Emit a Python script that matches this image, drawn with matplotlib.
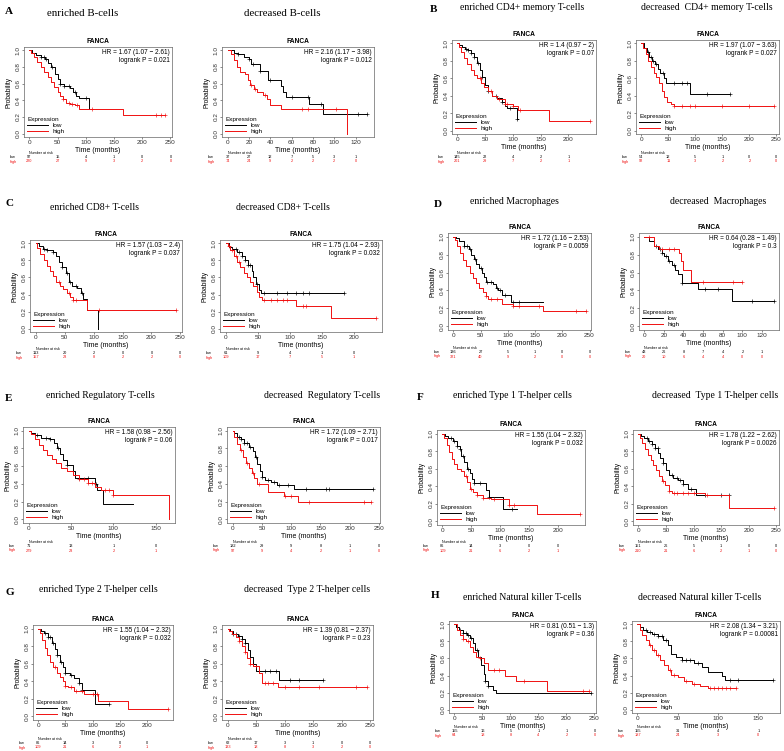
import matplotlib
matplotlib.use("Agg")
import matplotlib.pyplot as plt
import matplotlib.transforms as mtransforms
import numpy as np

# ---- survival curves: (time, survival after that time)
a1_low = [(5,0.97),(12,0.94),(20,0.92),(28,0.9),(33,0.85),(38,0.8),(45,0.72),(50,0.66),(55,0.6),(62,0.57),(72,0.55),(78,0.5),(82,0.45),(88,0.43),(105,0.29),(106,0.29)]
a1_high = [(3,0.97),(8,0.92),(14,0.86),(20,0.8),(26,0.74),(32,0.68),(38,0.62),(44,0.56),(50,0.5),(55,0.45),(60,0.41),(65,0.37),(72,0.35),(80,0.34),(88,0.3),(95,0.29),(165,0.22),(240,0.22)]
a1_low_cens = [20,25,30,40,55,62,70,80,100]
a1_high_cens = [60,70,75,85,110,225,233,240]

a2_low = [(6,0.97),(10,0.95),(15,0.92),(20,0.9),(22,0.84),(30,0.75),(38,0.64),(50,0.57),(52,0.5),(55,0.44),(76,0.36),(89,0.24),(131,0.24)]
a2_high = [(3,0.95),(6,0.88),(9,0.8),(12,0.74),(16,0.72),(19,0.64),(21,0.58),(25,0.54),(28,0.5),(33,0.46),(37,0.42),(40,0.34),(50,0.29),(112,0.0)]
a2_low_cens = [10,20,24,30,40,60,75,88,122,131]
a2_high_cens = [22,26,35,70,75,102]

b1_low = [(3,0.98),(8,0.96),(14,0.94),(20,0.92),(25,0.89),(30,0.85),(35,0.78),(40,0.7),(45,0.62),(50,0.52),(55,0.45),(62,0.4),(72,0.37),(80,0.33),(85,0.28),(90,0.26),(107,0.13),(110,0.13)]
b1_high = [(3,0.96),(7,0.9),(12,0.83),(18,0.76),(24,0.7),(30,0.64),(36,0.6),(42,0.55),(48,0.5),(55,0.45),(62,0.4),(72,0.36),(85,0.3),(100,0.28),(110,0.23),(165,0.11),(238,0.11)]
b1_low_cens = [15,20,25,30,38,45,55,70,80,95,108]
b1_high_cens = [40,60,75,85,90,100,112,238]

b2_low = [(5,0.95),(10,0.9),(15,0.85),(20,0.8),(25,0.76),(30,0.71),(35,0.66),(42,0.6),(45,0.55),(90,0.42),(165,0.42)]
b2_high = [(3,0.95),(8,0.88),(13,0.8),(18,0.73),(23,0.66),(28,0.62),(33,0.55),(38,0.45),(42,0.38),(48,0.33),(55,0.3),(60,0.28),(245,0.28)]
b2_low_cens = [12,18,22,28,40,60,75,85,122,165]
b2_high_cens = [60,75,90,100,150,200,245]

c1_low = [(5,0.97),(12,0.94),(20,0.92),(30,0.9),(35,0.85),(40,0.78),(45,0.72),(52,0.65),(58,0.55),(62,0.5),(72,0.48),(78,0.42),(82,0.35),(88,0.22),(108,0.0)]
c1_high = [(3,0.95),(8,0.88),(14,0.8),(20,0.74),(25,0.68),(30,0.62),(36,0.55),(42,0.5),(48,0.46),(55,0.42),(60,0.37),(65,0.33),(88,0.22),(242,0.22)]
c1_low_cens = [15,20,30,45,55,60,70,80]
c1_high_cens = [40,58,65,70,110,242]

c2_low = [(5,0.96),(10,0.93),(18,0.9),(25,0.85),(30,0.8),(35,0.75),(40,0.68),(43,0.6),(47,0.52),(52,0.45),(55,0.42),(185,0.42)]
c2_high = [(3,0.97),(7,0.92),(12,0.85),(17,0.78),(22,0.72),(28,0.65),(33,0.6),(38,0.55),(43,0.5),(48,0.43),(52,0.37),(56,0.33),(110,0.27),(165,0.13),(235,0.13)]
c2_low_cens = [15,20,25,30,35,38,48,60,80,95,110,120,130,185]
c2_high_cens = [5,10,15,20,60,70,80,90,95,120,125,235]

d1_low = [(5,0.98),(10,0.95),(20,0.9),(28,0.86),(33,0.8),(38,0.75),(42,0.7),(47,0.65),(52,0.6),(56,0.55),(60,0.5),(72,0.47),(78,0.43),(82,0.4),(90,0.35),(105,0.27),(165,0.27)]
d1_high = [(3,0.96),(7,0.9),(12,0.82),(18,0.74),(24,0.67),(30,0.6),(36,0.54),(42,0.48),(48,0.43),(54,0.38),(60,0.34),(64,0.31),(75,0.3),(90,0.25),(110,0.23),(165,0.17),(243,0.17)]
d1_low_cens = [20,25,30,40,50,62,70,80,85,95,110,120]
d1_high_cens = [60,70,80,110,120,158,225,243]

d2_low = [(5,0.95),(10,0.9),(14,0.86),(18,0.82),(20,0.78),(24,0.73),(28,0.68),(31,0.63),(34,0.58),(38,0.48),(55,0.42),(89,0.28),(132,0.28)]
d2_high = [(10,0.9),(15,0.86),(35,0.82),(37,0.73),(40,0.63),(48,0.5),(100,0.5)]
d2_low_cens = [12,16,18,22,25,30,38,62,75,110,132]
d2_high_cens = [5,18,25,30,60,90,100]

e1_low = [(3,0.97),(8,0.95),(15,0.92),(25,0.9),(30,0.86),(34,0.8),(37,0.74),(40,0.67),(45,0.61),(52,0.55),(55,0.47),(78,0.4),(81,0.33),(88,0.17),(123,0.17)]
e1_high = [(3,0.96),(7,0.9),(12,0.84),(17,0.78),(22,0.73),(27,0.68),(32,0.63),(38,0.58),(45,0.54),(52,0.5),(60,0.45),(70,0.41),(78,0.37),(85,0.33),(100,0.28),(165,0.0)]
e1_low_cens = [10,20,25,35,45,60,70,80]
e1_high_cens = [60,65,70,75,90,95,100]

e2_low = [(3,0.97),(8,0.93),(15,0.9),(20,0.86),(28,0.82),(34,0.77),(38,0.7),(42,0.62),(46,0.55),(50,0.48),(55,0.44),(65,0.42),(75,0.39),(105,0.34),(240,0.34)]
e2_high = [(3,0.93),(7,0.85),(12,0.78),(17,0.7),(22,0.64),(28,0.58),(33,0.52),(37,0.47),(42,0.4),(60,0.31),(88,0.26),(112,0.2),(237,0.2)]
e2_low_cens = [10,15,20,25,30,40,50,60,70,80,95,125,160,165,240]
e2_high_cens = [15,25,35,45,90,100,130,225,237]

f1_low = [(5,0.97),(10,0.95),(18,0.91),(25,0.86),(30,0.82),(33,0.75),(37,0.68),(42,0.6),(47,0.55),(52,0.48),(55,0.44),(75,0.36),(80,0.28),(105,0.14),(130,0.14)]
f1_high = [(3,0.95),(7,0.87),(12,0.79),(16,0.71),(20,0.65),(25,0.6),(32,0.57),(37,0.52),(42,0.45),(48,0.37),(53,0.33),(60,0.3),(70,0.27),(85,0.25),(115,0.19),(165,0.09),(238,0.09)]
f1_low_cens = [15,20,25,30,35,45,55,65,80,120]
f1_high_cens = [40,50,60,70,90,115,125,238]

f2_low = [(5,0.97),(10,0.95),(18,0.92),(25,0.88),(30,0.84),(36,0.78),(40,0.72),(45,0.66),(50,0.58),(55,0.53),(62,0.5),(72,0.47),(80,0.43),(90,0.37),(105,0.3),(165,0.3)]
f2_high = [(3,0.95),(7,0.89),(12,0.82),(17,0.76),(22,0.7),(27,0.64),(32,0.58),(37,0.52),(42,0.46),(48,0.41),(55,0.35),(60,0.32),(120,0.3),(165,0.15),(245,0.15)]
f2_low_cens = [15,20,25,30,35,45,60,70,75,80,95,120,150,165]
f2_high_cens = [45,55,65,70,80,90,100,125,245]

g1_low = [(5,0.97),(10,0.95),(18,0.9),(25,0.84),(30,0.77),(35,0.7),(40,0.62),(45,0.56),(50,0.5),(58,0.47),(65,0.44),(75,0.38),(80,0.3),(105,0.14),(130,0.14)]
g1_high = [(3,0.95),(7,0.87),(12,0.78),(17,0.7),(22,0.62),(28,0.56),(35,0.5),(40,0.45),(45,0.4),(50,0.35),(55,0.33),(65,0.29),(85,0.26),(110,0.18),(165,0.09),(238,0.09)]
g1_low_cens = [12,18,22,28,35,42,50,60,75,80,130]
g1_high_cens = [30,50,60,70,80,100,108,238]

g2_low = [(5,0.97),(10,0.94),(18,0.91),(25,0.88),(30,0.84),(35,0.76),(40,0.68),(45,0.6),(50,0.52),(90,0.42),(168,0.42)]
g2_high = [(3,0.97),(8,0.94),(14,0.9),(20,0.86),(26,0.8),(30,0.73),(34,0.66),(40,0.6),(45,0.57),(55,0.5),(60,0.38),(88,0.33),(245,0.33)]
g2_low_cens = [10,15,20,25,30,45,55,65,75,85,110,125,168]
g2_high_cens = [20,30,40,50,65,70,80,100,125,160,225,245]

h1_low = [(3,0.97),(8,0.94),(15,0.9),(22,0.87),(28,0.84),(33,0.78),(37,0.7),(42,0.62),(47,0.52),(52,0.42),(55,0.33),(60,0.28),(68,0.23),(75,0.2),(243,0.2)]
h1_high = [(5,0.93),(10,0.88),(15,0.83),(20,0.8),(27,0.74),(33,0.68),(38,0.62),(45,0.6),(52,0.55),(60,0.46),(90,0.4),(110,0.34),(165,0.22),(240,0.22)]
h1_low_cens = [10,15,20,25,30,40,55,60,243]
h1_high_cens = [15,25,45,70,80,125,230,240]

h2_low = [(3,0.97),(7,0.94),(12,0.91),(18,0.89),(25,0.86),(32,0.82),(38,0.76),(41,0.65),(48,0.62),(55,0.58),(70,0.55),(80,0.5),(88,0.44),(105,0.4),(108,0.35),(168,0.35)]
h2_high = [(3,0.94),(6,0.88),(10,0.82),(14,0.76),(18,0.7),(23,0.64),(28,0.58),(33,0.52),(38,0.46),(42,0.41),(50,0.38),(58,0.33),(68,0.3),(78,0.28),(88,0.25),(122,0.25)]
h2_low_cens = [10,15,20,25,30,35,55,60,65,75,115,125,168]
h2_high_cens = [15,20,25,40,45,60,70,90,95,100,105,110,115,122]

# ---- x ticks and numbers at risk
ticks_250 = [0, 50, 100, 150, 200, 250]
ticks_200 = [0, 50, 100, 150, 200]
ticks_150 = [0, 50, 100, 150]
ticks_120 = [0, 20, 40, 60, 80, 100, 120]

a1_risk = ([97, 15, 4, 1, 0, 0], [220, 27, 9, 3, 2, 0])
a2_risk = ([37, 27, 12, 7, 5, 3, 1], [74, 24, 9, 2, 2, 2, 0])
b1_risk = ([145, 22, 4, 2, 1], [201, 29, 7, 2, 1])
b2_risk = ([54, 12, 5, 1, 0, 0], [92, 11, 3, 2, 2, 0])
c1_risk = ([113, 20, 2, 0, 0, 0], [157, 23, 8, 2, 2, 0])
c2_risk = ([61, 9, 4, 1, 0], [109, 17, 7, 5, 1])
d1_risk = ([136, 27, 5, 1, 0, 0], [321, 40, 9, 2, 0, 0])
d2_risk = ([43, 26, 8, 7, 4, 2, 1], [20, 10, 6, 4, 4, 0, 0])
e1_risk = ([71, 13, 1, 0], [279, 23, 2, 1])
e2_risk = ([182, 29, 9, 8, 1, 0], [97, 9, 4, 2, 1, 0])
f1_risk = ([86, 14, 3, 0, 0], [109, 21, 6, 2, 1])
f2_risk = ([151, 26, 5, 1, 0, 0], [210, 21, 6, 2, 1, 0])
g1_risk = ([86, 14, 3, 0, 0], [109, 21, 6, 2, 1])
g2_risk = ([62, 17, 3, 1, 0, 0], [133, 18, 8, 3, 2, 0])
h1_risk = ([155, 16, 5, 1, 1, 0], [64, 18, 8, 4, 2, 0])
h2_risk = ([155, 31, 4, 1], [187, 24, 3, 0])

hr_texts = [
    "HR = 1.67 (1.07 \u2212 2.61)\nlogrank P = 0.021",
    "HR = 2.16 (1.17 \u2212 3.98)\nlogrank P = 0.012",
    "HR = 1.4 (0.97 \u2212 2)\nlogrank P = 0.07",
    "HR = 1.97 (1.07 \u2212 3.63)\nlogrank P = 0.027",
    "HR = 1.57 (1.03 \u2212 2.4)\nlogrank P = 0.037",
    "HR = 1.75 (1.04 \u2212 2.93)\nlogrank P = 0.032",
    "HR = 1.72 (1.16 \u2212 2.53)\nlogrank P = 0.0059",
    "HR = 0.64 (0.28 \u2212 1.49)\nlogrank P = 0.3",
    "HR = 1.58 (0.98 \u2212 2.56)\nlogrank P = 0.06",
    "HR = 1.72 (1.09 \u2212 2.71)\nlogrank P = 0.017",
    "HR = 1.55 (1.04 \u2212 2.32)\nlogrank P = 0.032",
    "HR = 1.78 (1.22 \u2212 2.62)\nlogrank P = 0.0026",
    "HR = 1.55 (1.04 \u2212 2.32)\nlogrank P = 0.032",
    "HR = 1.39 (0.81 \u2212 2.37)\nlogrank P = 0.23",
    "HR = 0.81 (0.51 \u2212 1.3)\nlogrank P = 0.36",
    "HR = 2.08 (1.34 \u2212 3.21)\nlogrank P = 0.00081",
]

group_letters = ["A", "B", "C", "D", "E", "F", "G", "H"]
group_titles = [
    ("enriched B-cells", "decreased B-cells"),
    ("enriched CD4+ memory T-cells", "decreased  CD4+ memory T-cells"),
    ("enriched CD8+ T-cells", "decreased CD8+ T-cells"),
    ("enriched Macrophages", "decreased  Macrophages"),
    ("enriched Regulatory T-cells", "decreased  Regulatory T-cells"),
    ("enriched Type 1 T-helper cells", "decreased  Type 1 T-helper cells"),
    ("enriched Type 2 T-helper cells", "decreased  Type 2 T-helper cells"),
    ("enriched Natural killer T-cells", "decreased Natural killer T-cells"),
]

panels = [
    (a1_low, a1_high, a1_low_cens, a1_high_cens, ticks_250, a1_risk),
    (a2_low, a2_high, a2_low_cens, a2_high_cens, ticks_120, a2_risk),
    (b1_low, b1_high, b1_low_cens, b1_high_cens, ticks_200, b1_risk),
    (b2_low, b2_high, b2_low_cens, b2_high_cens, ticks_250, b2_risk),
    (c1_low, c1_high, c1_low_cens, c1_high_cens, ticks_250, c1_risk),
    (c2_low, c2_high, c2_low_cens, c2_high_cens, ticks_200, c2_risk),
    (d1_low, d1_high, d1_low_cens, d1_high_cens, ticks_250, d1_risk),
    (d2_low, d2_high, d2_low_cens, d2_high_cens, ticks_120, d2_risk),
    (e1_low, e1_high, e1_low_cens, e1_high_cens, ticks_150, e1_risk),
    (e2_low, e2_high, e2_low_cens, e2_high_cens, ticks_250, e2_risk),
    (f1_low, f1_high, f1_low_cens, f1_high_cens, ticks_200, f1_risk),
    (f2_low, f2_high, f2_low_cens, f2_high_cens, ticks_250, f2_risk),
    (g1_low, g1_high, g1_low_cens, g1_high_cens, ticks_200, g1_risk),
    (g2_low, g2_high, g2_low_cens, g2_high_cens, ticks_250, g2_risk),
    (h1_low, h1_high, h1_low_cens, h1_high_cens, ticks_250, h1_risk),
    (h2_low, h2_high, h2_low_cens, h2_high_cens, ticks_150, h2_risk),
]

# ---- layout in pixels (784 x 751 image)
# letter (x, y), title y, title centres, boxes (left, right), top, bottom, risk offset
layout = [
    ((5, 7), 13, (83, 282), ((24, 172), (222, 374)), 47, 137, 20),
    ((430, 5), 7, (522, 707), ((452, 596), (636, 779)), 40, 134, 23),
    ((5, 199), 207, (95, 283), ((30, 182), (220, 382)), 240, 332, 21),
    ((434, 200), 202, (514, 718), ((448, 591), (639, 779)), 233, 330, 22),
    ((5, 394), 395, (100, 322), ((23, 175), (227, 380)), 427, 523, 23),
    ((417, 393), 395, (512, 715), ((437, 585), (633, 779)), 430, 525, 21),
    ((5, 588), 589, (98, 307), ((33, 173), (222, 373)), 625, 720, 23),
    ((431, 591), 598, (522, 700), ((449, 596), (632, 780)), 621, 713, 18),
]
x_max = [243, 132, 240, 245, 243, 235, 243, 132, 166, 242, 238, 245, 238, 245, 243, 170]

W, H = 784, 751
SANS = "Liberation Sans"
SERIF = "Liberation Serif"
RED = "#f01010"


def fy(y):
    return 1 - y / H


def km(ax, pts, cens, color):
    t = [0] + [p[0] for p in pts]
    s = [1.0] + [p[1] for p in pts]
    ax.step(t, s, where="post", color=color, lw=0.7)
    idx = np.searchsorted(t, cens, side="right") - 1
    cs = [s[i] for i in idx]
    ax.plot(cens, cs, "+", ms=2.4, mew=0.45, color=color)


fig = plt.figure(figsize=(W / 100, H / 100), dpi=100)

for g in range(8):
    (lx, ly), ty, centres, boxes, top, bot, roff = layout[g]
    fig.text(lx / W, fy(ly), group_letters[g], fontsize=8, family=SERIF,
             fontweight="bold", va="top", ha="left")
    tsize = 7.8 if g == 0 else 7.0
    for k in range(2):
        fig.text(centres[k] / W, fy(ty), group_titles[g][k], fontsize=tsize,
                 family=SERIF, va="center", ha="center")
        p = 2 * g + k
        low, high, lc, hc, ticks, risk = panels[p]
        l, r = boxes[k]
        ax = fig.add_axes([l / W, fy(bot), (r - l) / W, (bot - top) / H])
        km(ax, low, lc, "black")
        km(ax, high, hc, RED)
        xm = x_max[p]
        ax.set_xlim(-0.04 * xm, 1.04 * xm)
        ax.set_ylim(-0.04, 1.04)
        ax.set_xticks(ticks)
        ax.set_yticks([0, 0.2, 0.4, 0.6, 0.8, 1.0])
        ax.set_yticklabels(["0.0", "0.2", "0.4", "0.6", "0.8", "1.0"],
                           rotation=90, va="center")
        ax.tick_params(labelsize=4.6, length=1.5, width=0.4, pad=1, colors="0.2")
        for lab in ax.get_xticklabels() + ax.get_yticklabels():
            lab.set_family(SANS)
        for sp in ax.spines.values():
            sp.set_linewidth(0.5)
            sp.set_color("0.4")
        ax.set_xlabel("Time (months)", fontsize=5.0, family=SANS, labelpad=1)
        ax.set_ylabel("Probability", fontsize=4.8, family=SANS, labelpad=2.5)
        ax.set_title("FANCA", fontsize=4.8, family=SANS, fontweight="bold", pad=3)
        ax.text(0.985, 0.975, hr_texts[p], transform=ax.transAxes, ha="right",
                va="top", fontsize=4.7, family=SANS, linespacing=1.15)
        h_low, = ax.plot([], [], color="black", lw=0.7)
        h_high, = ax.plot([], [], color=RED, lw=0.7)
        leg = ax.legend([h_low, h_high], ["low", "high"], title="Expression",
                        loc="lower left", frameon=False, fontsize=4.6,
                        title_fontsize=4.6, handlelength=3.2, labelspacing=0.05,
                        borderaxespad=0.3, borderpad=0.2, handletextpad=0.8)
        leg._legend_box.align = "left"
        for txt in leg.get_texts() + [leg.get_title()]:
            txt.set_family(SANS)
        # numbers at risk
        tr = mtransforms.blended_transform_factory(ax.transData, fig.transFigure)
        ax.text(ticks[0], fy(bot + roff - 4), "Number at risk", transform=tr,
                fontsize=2.6, family=SANS, ha="left", va="center", clip_on=False)
        for row, (vals, col, name) in enumerate([(risk[0], "black", "low"),
                                                  (risk[1], RED, "high")]):
            yy = fy(bot + roff + row * 4.5)
            fig.text((l - 14) / W, yy, name, fontsize=2.8, family=SANS,
                     color=col, ha="left", va="center")
            for xv, v in zip(ticks, vals):
                ax.text(xv, yy, str(v), transform=tr, fontsize=2.8, family=SANS,
                        color=col, ha="center", va="center", clip_on=False)

fig.savefig("out.png", dpi=100)
